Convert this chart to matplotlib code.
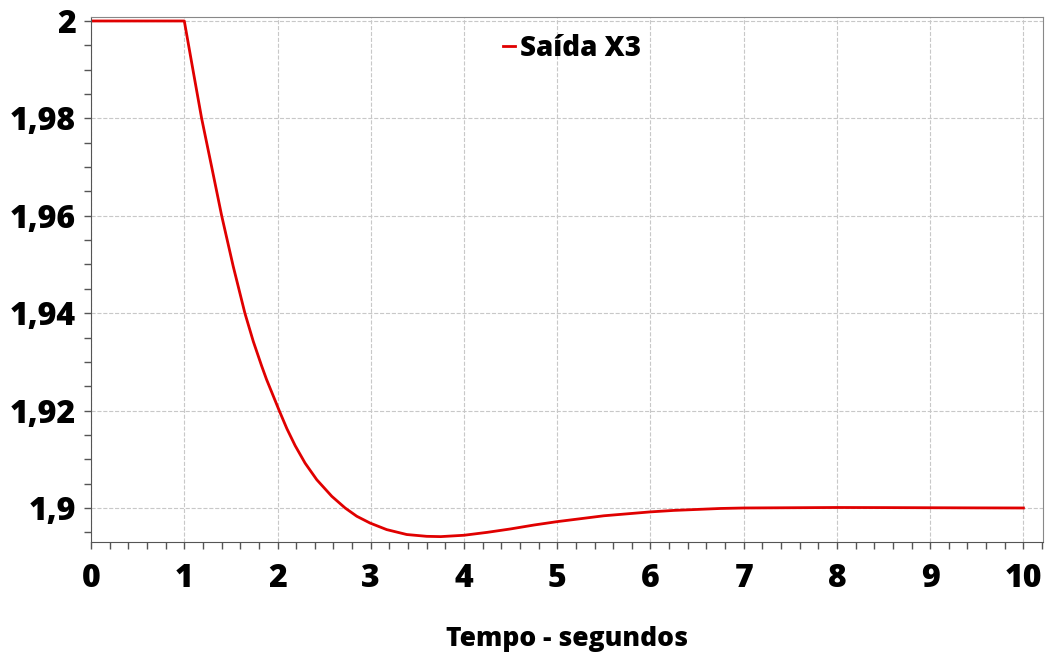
import matplotlib
matplotlib.use("Agg")
import matplotlib.pyplot as plt
from matplotlib.ticker import FixedLocator, FixedFormatter, MultipleLocator

# values
tempo = [0.0, 1.0, 1.1, 1.186, 1.293, 1.401, 1.525, 1.65, 1.74, 1.829, 1.882, 2.018,
         2.10, 2.189, 2.296, 2.421, 2.582, 2.725, 2.85, 2.993, 3.171, 3.386, 3.6,
         3.75, 4.0, 4.25, 4.5, 4.75, 5.0, 5.25, 5.5, 5.75, 6.0, 6.25, 6.5, 6.75, 7.0,
         7.5, 8.0, 8.5, 9.0, 9.5, 10.0]
saida_x3 = [2.0, 2.0, 1.9892, 1.98, 1.9701, 1.96, 1.9496, 1.94, 1.9342, 1.9292,
            1.9264, 1.92, 1.9163, 1.9128, 1.9092, 1.9058, 1.9024, 1.9000, 1.8983,
            1.8969, 1.89556, 1.89455, 1.89418, 1.89412, 1.8944, 1.8950, 1.8957,
            1.8965, 1.8972, 1.8978, 1.8984, 1.8988, 1.8992, 1.8995, 1.8997, 1.8999,
            1.9000, 1.90005, 1.9001, 1.90008, 1.90005, 1.90002, 1.9000]

x_ticks = [0, 1, 2, 3, 4, 5, 6, 7, 8, 9, 10]
y_ticks = [1.90, 1.92, 1.94, 1.96, 1.98, 2.00]
y_labels = ["1,9", "1,92", "1,94", "1,96", "1,98", "2"]

plt.rcParams['font.family'] = ['Open Sans', 'DejaVu Sans']

fig = plt.figure(figsize=(10.49, 6.52), dpi=100)
ax = fig.add_axes([0.0868, 0.1683, 0.9075, 0.8061])

ax.plot(tempo, saida_x3, color='#e00000', linewidth=2.0, label='Saída X3')

ax.set_xlim(0, 10.21)
ax.set_ylim(1.89296, 2.00088)

ax.xaxis.set_major_locator(FixedLocator(x_ticks))
ax.xaxis.set_minor_locator(MultipleLocator(0.2))
ax.yaxis.set_major_locator(FixedLocator(y_ticks))
ax.yaxis.set_major_formatter(FixedFormatter(y_labels))
ax.yaxis.set_minor_locator(MultipleLocator(0.005))

ax.tick_params(which='both', direction='out', length=5, width=1, color='#555555')
ax.tick_params(axis='x', which='major', labelsize=23, pad=10)
ax.tick_params(axis='y', which='major', labelsize=23, pad=6)
for lab in ax.get_xticklabels() + ax.get_yticklabels():
    lab.set_fontweight('heavy')

ax.grid(True, which='major', linestyle='--', color='#c8c8c8', linewidth=0.8)

for side in ['left', 'bottom']:
    ax.spines[side].set_color('#555555')
for side in ['top', 'right']:
    ax.spines[side].set_color('#888888')

ax.set_xlabel('Tempo - segundos', fontsize=19, fontweight='heavy', labelpad=22)

ax.legend(loc='center', bbox_to_anchor=(0.505, 0.94), frameon=False,
          handlelength=0.45, handletextpad=0.15,
          prop={'size': 20, 'weight': 'heavy'})

fig.savefig('out.png', dpi=100)
